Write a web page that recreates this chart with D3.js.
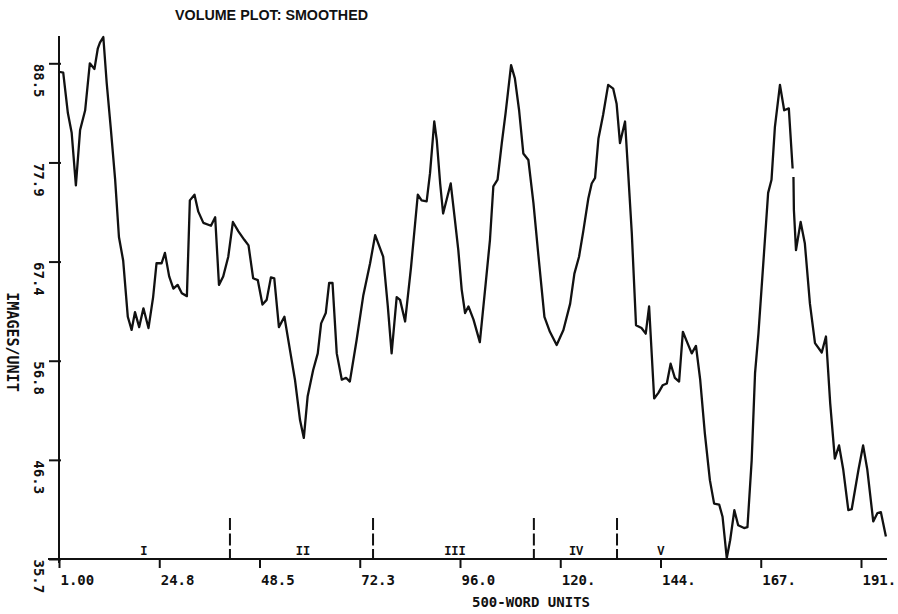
<!DOCTYPE html>
<html>
<head>
<meta charset="utf-8">
<script src="https://cdn.jsdelivr.net/npm/d3@7"></script>
<style>
  html, body { margin: 0; padding: 0; background: #fff; }
  svg { display: block; }
</style>
</head>
<body>
<svg id="chart" width="898" height="614"></svg>
<script>
// ---- data (500-word unit index vs. images per unit) ----
const unitsX = [
  1.0, 2.0, 3.1, 4.0, 5.0, 6.0, 7.2, 8.3, 9.4, 10.2, 10.7, 11.5, 12.3, 13.3, 14.3, 15.2, 16.2, 17.3, 18.2, 19.0,
  20.0, 21.0, 22.2, 23.3, 24.1, 25.3, 26.1, 27.1, 28.1, 29.1, 30.1, 31.3, 32.0, 33.1, 34.0, 35.2, 37.0, 38.0, 38.9, 39.9,
  41.1, 42.2, 43.5, 44.9, 45.9, 47.0, 48.1, 49.2, 50.2, 51.2, 52.0, 53.1, 54.4, 55.7, 56.9, 58.1, 59.0, 59.9, 61.2, 62.3,
  63.1, 64.2, 65.0, 65.8, 66.8, 68.0, 69.0, 69.9, 71.5, 73.1, 74.7, 75.9, 77.8, 78.9, 79.8, 81.0, 81.8, 83.0, 84.4, 86.0,
  86.9, 88.1, 88.9, 89.9, 90.5, 91.3, 92.0, 93.8, 94.8, 95.6, 96.4, 97.2, 98.0, 99.2, 100.7, 102.1, 103.1, 103.9, 104.9, 105.9,
  106.8, 108.1, 109.0, 110.0, 111.0, 112.2, 113.4, 114.6, 116.0, 117.3, 118.9, 120.5, 122.1, 123.1, 124.2, 125.2, 126.4, 127.2, 128.0, 128.8,
  129.9, 131.1, 132.3, 133.1, 133.9, 135.1, 135.9, 136.7, 137.7, 139.0, 140.0, 140.8, 142.0, 143.0, 144.0, 145.0, 145.9, 146.9, 147.9, 148.8,
  149.8, 150.9, 151.9, 152.9, 154.0, 155.2, 156.2, 157.4, 158.2, 159.2, 160.0, 161.0, 161.9, 163.3, 164.1, 165.1, 165.9, 166.7, 167.9, 169.0,
  169.8, 170.6, 171.8, 172.8, 173.9, 174.8, 174.9, 175.0, 175.1, 175.6, 176.7, 177.7, 178.9, 180.1, 181.7, 182.7, 183.7, 184.8, 185.8, 186.8,
  188.0, 188.8, 190.4, 191.5, 192.5, 193.9, 194.9, 195.7, 196.9
];
const imagesPerUnit = [
  87.6, 87.5, 83.2, 81.1, 75.5, 81.4, 83.5, 88.5, 87.9, 90.1, 90.7, 91.3, 86.4, 81.4, 76.1, 70.0, 67.5, 61.5, 60.1, 62.0,
  60.4, 62.4, 60.3, 63.6, 67.2, 67.2, 68.3, 65.8, 64.5, 64.9, 64.0, 63.7, 73.9, 74.5, 72.7, 71.5, 71.2, 72.1, 64.9, 65.8,
  67.9, 71.6, 70.6, 69.7, 69.1, 65.6, 65.4, 62.8, 63.3, 65.7, 65.6, 60.4, 61.5, 58.0, 54.8, 50.5, 48.6, 53.0, 55.8, 57.6,
  60.8, 61.9, 65.1, 65.1, 57.6, 54.8, 55.0, 54.6, 59.0, 63.8, 67.2, 70.2, 67.9, 62.6, 57.6, 63.6, 63.3, 61.0, 66.8, 74.5,
  73.9, 73.8, 76.8, 82.3, 80.3, 75.7, 72.5, 75.7, 71.8, 68.6, 64.4, 61.9, 62.6, 61.2, 58.8, 65.1, 69.7, 75.4, 76.1, 80.0,
  83.2, 88.3, 86.9, 83.5, 78.9, 78.2, 73.6, 67.9, 61.5, 59.9, 58.5, 60.1, 62.9, 66.1, 67.9, 70.6, 74.1, 75.7, 76.3, 80.5,
  83.0, 86.2, 85.8, 84.2, 80.0, 82.3, 76.4, 70.4, 60.6, 60.3, 59.7, 62.6, 52.8, 53.4, 54.2, 54.4, 56.5, 55.0, 54.6, 59.9,
  58.8, 57.6, 58.4, 54.8, 49.1, 44.1, 41.6, 41.5, 40.2, 35.8, 37.7, 40.9, 39.3, 39.0, 39.1, 46.2, 55.5, 59.7, 67.5, 74.7,
  76.1, 81.7, 86.2, 83.5, 83.7, 77.3, null, 76.4, 72.9, 68.6, 71.6, 69.3, 62.9, 58.7, 57.7, 59.4, 52.3, 46.4, 47.8, 45.2,
  40.9, 41.0, 45.2, 47.8, 45.2, 39.7, 40.6, 40.7, 38.1
];
const xTickValues = [1, 24.75, 48.5, 72.25, 96, 119.75, 143.5, 167.25, 191];
const xTickLabels = ["1.00", "24.8", "48.5", "72.3", "96.0", "120.", "144.", "167.", "191."];
const yTickValues = [35.7, 46.26, 56.82, 67.38, 77.94, 88.5];
const yTickLabels = ["35.7", "46.3", "56.8", "67.4", "77.9", "88.5"];
const sectionBoundaries = [41.5, 75.4, 113.5, 133.2];
const sectionLabels = ["I", "II", "III", "IV", "V"];
const sectionLabelX = [21.1, 58.8, 94.8, 123.5, 143.6];
const titleText = "VOLUME PLOT: SMOOTHED";
const xAxisTitle = "500-WORD UNITS";
const yAxisTitle = "IMAGES/UNIT";

// ---- layout ----
const svg = d3.select("#chart");
const x = d3.scaleLinear().domain([1, 191]).range([59, 861]);
const y = d3.scaleLinear().domain([35.7, 88.5]).range([559, 63.3]);
const mono = "'DejaVu Sans Mono', 'Liberation Mono', monospace";

// title
svg.append("text")
  .attr("x", 175).attr("y", 20)
  .attr("font-family", "'Liberation Sans', Arial, sans-serif")
  .attr("font-weight", "bold")
  .attr("font-size", 14.3)
  .attr("fill", "#111")
  .text(titleText);

// axis lines (extended like the plotter)
svg.append("line").attr("x1", 48).attr("x2", 887).attr("y1", y(35.7)).attr("y2", y(35.7))
  .attr("stroke", "#111").attr("stroke-width", 2);
svg.append("line").attr("x1", x(1)).attr("x2", x(1)).attr("y1", 36).attr("y2", 563)
  .attr("stroke", "#111").attr("stroke-width", 2);

// x axis
const xAxis = d3.axisBottom(x)
  .tickValues(xTickValues)
  .tickFormat((d, i) => xTickLabels[i])
  .tickSizeInner(9).tickSizeOuter(0);
const gx = svg.append("g").attr("transform", `translate(0,${y(35.7)})`).call(xAxis);
gx.select(".domain").remove();
gx.selectAll(".tick line").attr("stroke", "#111").attr("stroke-width", 2);
gx.selectAll(".tick text")
  .attr("text-anchor", "start").attr("x", 1).attr("y", 26).attr("dy", null)
  .attr("font-family", mono).attr("font-weight", "bold").attr("font-size", 14).attr("fill", "#111");

// y axis
const yAxis = d3.axisLeft(y)
  .tickValues(yTickValues)
  .tickFormat((d, i) => yTickLabels[i])
  .tickSizeInner(10).tickSizeOuter(0);
const gy = svg.append("g").attr("transform", `translate(${x(1)},0)`).call(yAxis);
gy.select(".domain").remove();
gy.selectAll(".tick line").attr("x1", 2).attr("stroke", "#111").attr("stroke-width", 2);
gy.selectAll(".tick text")
  .attr("text-anchor", "start").attr("x", 0).attr("y", 0).attr("dy", null)
  .attr("transform", "translate(-25,0) rotate(90)")
  .attr("font-family", mono).attr("font-weight", "bold").attr("font-size", 14).attr("fill", "#111");

// axis titles
svg.append("text")
  .attr("x", 472).attr("y", 607)
  .attr("font-family", mono).attr("font-weight", "bold").attr("font-size", 14).attr("fill", "#111")
  .text(xAxisTitle);
svg.append("text")
  .attr("transform", "translate(7,342) rotate(90)")
  .attr("text-anchor", "middle")
  .attr("font-family", mono).attr("font-weight", "bold").attr("font-size", 15).attr("fill", "#111")
  .text(yAxisTitle);

// section boundaries
svg.selectAll(".boundary").data(sectionBoundaries).enter().append("line")
  .attr("class", "boundary")
  .attr("x1", d => x(d)).attr("x2", d => x(d))
  .attr("y1", 518).attr("y2", y(35.7))
  .attr("stroke", "#111").attr("stroke-width", 2)
  .attr("stroke-dasharray", "12,3.5");

svg.selectAll(".section").data(sectionLabels).enter().append("text")
  .attr("class", "section")
  .attr("x", (d, i) => x(sectionLabelX[i])).attr("y", 555)
  .attr("text-anchor", "middle")
  .attr("font-family", "'Liberation Mono', 'Courier New', monospace")
  .attr("font-weight", "bold").attr("font-size", 12).attr("fill", "#111")
  .text(d => d);

// data line
const points = unitsX.map((u, i) => ({ u, v: imagesPerUnit[i] }));
const line = d3.line()
  .defined(d => d.v !== null)
  .x(d => x(d.u)).y(d => y(d.v));
svg.append("path")
  .datum(points)
  .attr("d", line)
  .attr("fill", "none")
  .attr("stroke", "#111")
  .attr("stroke-width", 2.3)
  .attr("stroke-linejoin", "round");
</script>
</body>
</html>
